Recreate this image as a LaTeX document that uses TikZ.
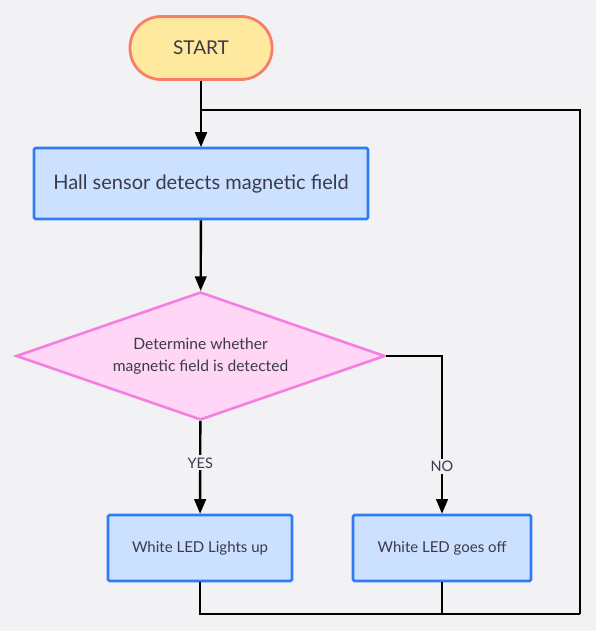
\documentclass[tikz,border=0pt]{standalone}
\usepackage{fontspec}
\setmainfont{Lato}
\usetikzlibrary{arrows,shapes.geometric}
\definecolor{bg}{HTML}{F2F2F5}
\definecolor{ink}{HTML}{3A3A4A}
\definecolor{startfill}{HTML}{FFE99E}
\definecolor{startline}{HTML}{F87E6B}
\definecolor{boxfill}{HTML}{CCE0FF}
\definecolor{boxline}{HTML}{2F7CF6}
\definecolor{checkfill}{HTML}{FFD6F6}
\definecolor{checkline}{HTML}{F67EE0}

\begin{document}
\begin{tikzpicture}[x=1pt,y=-1pt,>=triangle 45,line width=2.4pt,
  start node/.style={draw=startline,fill=startfill,line width=2.8pt,rounded corners=31pt,
    minimum width=142pt,minimum height=63pt,text=ink,font=\fontsize{19}{22}\selectfont},
  main node/.style={draw=boxline,fill=boxfill,line width=2.8pt,rounded corners=1.5pt,
    minimum height=70pt,text=ink,font=\fontsize{15}{18}\selectfont},
  check node/.style={diamond,draw=checkline,fill=checkfill,line width=2.6pt,inner sep=0pt,
    aspect=2.88,minimum width=369pt,minimum height=128pt,align=center,text=ink,
    font=\fontsize{15.6}{22}\selectfont},
  label/.style={fill=bg,inner sep=2pt,text=ink,font=\fontsize{14.5}{17}\selectfont}]

  \fill[bg] (0,0) rectangle (596,631);
  \useasboundingbox (0,0) rectangle (596,631);

  \node[start node] (start) at (201,48) {START};
  \node[main node,minimum width=334pt,minimum height=71pt,font=\fontsize{20}{24}\selectfont]
    (hall) at (201,183.5) {Hall sensor detects magnetic field};
  \node[check node] (check) at (200.5,356) {Determine whether\\magnetic field is detected};
  \node[main node,minimum width=184pt,minimum height=66pt] (on) at (200,548)
    {White LED Lights up};
  \node[main node,minimum width=178pt,minimum height=66pt] (off) at (442,548)
    {White LED goes off};

  \coordinate (loop se) at (580,614);
  \coordinate (loop ne) at (580,110);

  \path[->,black]
    (start) edge (hall)
    (hall) edge (check)
    (check) edge node[label,pos=0.45] {YES} (on);
  \draw[->] (check.east) -| node[label,pos=0.85] {NO} (off.north);

  \draw (on.south) |- (loop se);
  \draw (off.south) -- (off.south |- loop se);
  \draw[->] (loop se) -- (loop ne) -| (hall.north);

\end{tikzpicture}
\end{document}
